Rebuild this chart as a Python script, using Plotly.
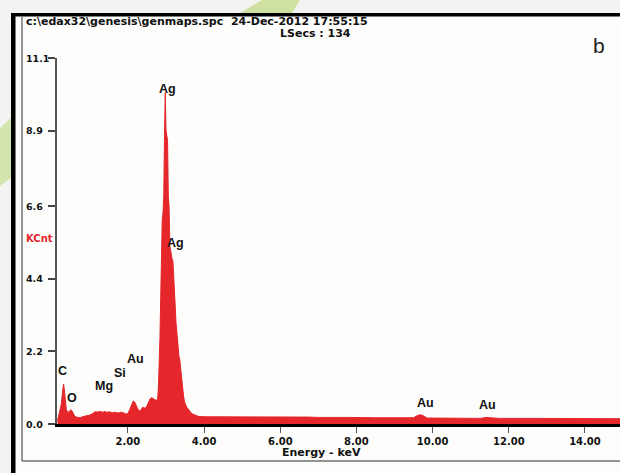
import plotly.graph_objects as go

# ---------------- data ----------------
energy_low = [0.15, 0.20, 0.25, 0.28, 0.31, 0.33, 0.35, 0.38, 0.41, 0.44, 0.47, 0.50, 0.53,
              0.56, 0.60, 0.65, 0.70, 0.75, 0.80, 0.85, 0.90, 0.95, 1.00, 1.05, 1.10, 1.15,
              1.20, 1.25, 1.30, 1.35, 1.40, 1.45, 1.50, 1.55, 1.60, 1.65, 1.70, 1.75, 1.80,
              1.85, 1.90, 1.95, 2.00, 2.05, 2.10, 2.14, 2.18, 2.22, 2.26, 2.30, 2.34, 2.38,
              2.42, 2.46, 2.50, 2.54, 2.58, 2.62, 2.66, 2.70, 2.73]
kcnt_low = [0.10, 0.35, 0.60, 0.95, 1.21, 1.05, 0.70, 0.45, 0.37, 0.36, 0.40, 0.43, 0.40,
            0.32, 0.24, 0.21, 0.20, 0.19, 0.22, 0.23, 0.23, 0.26, 0.27, 0.30, 0.35, 0.38,
            0.36, 0.38, 0.37, 0.36, 0.38, 0.35, 0.37, 0.36, 0.34, 0.36, 0.35, 0.33, 0.36,
            0.35, 0.33, 0.30, 0.32, 0.45, 0.62, 0.70, 0.66, 0.55, 0.45, 0.40, 0.42, 0.50,
            0.50, 0.48, 0.55, 0.68, 0.76, 0.80, 0.76, 0.74, 0.72]

energy_peak = [2.76, 2.78, 2.80, 2.82, 2.84, 2.86, 2.88, 2.90, 2.92, 2.94, 2.96, 2.98, 3.00,
               3.02, 3.04, 3.06, 3.08, 3.10, 3.12, 3.14, 3.16, 3.18, 3.20, 3.22, 3.24, 3.26,
               3.28, 3.30, 3.32, 3.34, 3.36, 3.38, 3.40, 3.42, 3.44, 3.46, 3.48, 3.50, 3.55,
               3.60, 3.65, 3.70, 3.75, 3.80]
kcnt_peak = [0.72, 0.78, 1.10, 1.70, 2.60, 3.80, 5.20, 6.20, 6.40, 6.90, 8.80, 10.05, 8.90,
             8.70, 8.60, 6.90, 6.60, 5.40, 5.20, 5.10, 5.00, 4.95, 4.30, 4.10, 3.60, 3.10,
             2.80, 2.50, 2.20, 2.05, 1.95, 1.70, 1.40, 1.20, 1.00, 0.85, 0.72, 0.62, 0.50,
             0.42, 0.35, 0.30, 0.27, 0.24]

energy_tail = [3.85, 4.00, 4.25, 4.50, 4.75, 5.00, 5.25, 5.50, 5.75, 6.00, 6.25, 6.50, 6.75,
               7.00, 7.25, 7.50, 7.75, 8.00, 8.25, 8.50, 8.75, 9.00, 9.25, 9.50, 9.60, 9.68,
               9.76, 9.85, 10.00, 10.25, 10.50, 10.75, 11.00, 11.25, 11.40, 11.50, 11.75,
               12.00, 12.25, 12.50, 12.75, 13.00, 13.25, 13.50, 13.75, 14.00, 14.25, 14.50,
               14.75, 14.92]
kcnt_tail = [0.23, 0.22, 0.22, 0.23, 0.22, 0.22, 0.21, 0.21, 0.22, 0.21, 0.22, 0.22, 0.21,
             0.20, 0.21, 0.20, 0.20, 0.19, 0.20, 0.19, 0.19, 0.19, 0.19, 0.19, 0.26, 0.28,
             0.25, 0.18, 0.18, 0.18, 0.17, 0.18, 0.18, 0.17, 0.20, 0.19, 0.17, 0.17, 0.18,
             0.17, 0.17, 0.17, 0.17, 0.16, 0.17, 0.16, 0.17, 0.16, 0.16, 0.16]

label_text = ["C", "O", "Mg", "Si", "Au", "Ag", "Ag", "Au", "Au"]
label_kev = [0.27, 0.52, 1.37, 1.80, 2.19, 3.05, 3.24, 9.80, 11.45]
label_kcnt = [1.62, 0.80, 1.14, 1.55, 1.97, 10.15, 5.48, 0.65, 0.59]

x_tick_vals = [2, 4, 6, 8, 10, 12, 14]
x_tick_text = ["2.00", "4.00", "6.00", "8.00", "10.00", "12.00", "14.00"]
y_tick_vals = [0.0, 2.2, 4.4, 6.6, 8.9, 11.1]
y_tick_text = ["0.0", "2.2", "4.4", "6.6", "8.9", "11.1"]

header_line1 = "c:\\edax32\\genesis\\genmaps.spc\u00a0\u00a024-Dec-2012 17:55:15"
header_line2 = "LSecs : 134"

# ---------------- figure ----------------
W, H = 620, 473
ML, MR, MT, MB = 57, 0, 58, 49
PW, PH = W - ML - MR, H - MT - MB


def PX(px):
    return (px - ML) / PW


def PY(py):
    return (H - MB - py) / PH


RED = "#e5262b"
energy = energy_low + energy_peak + energy_tail
kcnt = kcnt_low + kcnt_peak + kcnt_tail

fig = go.Figure()
fig.add_trace(go.Scatter(
    x=energy, y=kcnt, mode="lines", fill="tozeroy",
    line=dict(color=RED, width=1), fillcolor=RED, hoverinfo="skip", showlegend=False,
))

shapes = [
    # inner white sheet
    dict(type="rect", xref="paper", yref="paper", x0=PX(15), x1=PX(620), y0=PY(473), y1=PY(16),
         fillcolor="#fdfdfc", line=dict(width=0), layer="below"),
    # decorative green patches outside the frame
    dict(type="path", xref="paper", yref="paper", layer="below",
         path=f"M {PX(0)} {PY(128)} L {PX(11)} {PY(118)} L {PX(11)} {PY(178)} L {PX(0)} {PY(186)} Z",
         fillcolor="#d3e5ad", line=dict(width=0)),
    dict(type="path", xref="paper", yref="paper", layer="below",
         path=f"M {PX(240)} {PY(13)} L {PX(262)} {PY(0)} L {PX(300)} {PY(0)} L {PX(292)} {PY(13)} Z",
         fillcolor="#cfe2a2", line=dict(width=0)),
    # thick black border (left and top)
    dict(type="rect", xref="paper", yref="paper", x0=PX(11), x1=PX(15.5), y0=PY(473), y1=PY(13),
         fillcolor="#000000", line=dict(width=0)),
    dict(type="rect", xref="paper", yref="paper", x0=PX(11), x1=PX(620), y0=PY(16.5), y1=PY(13),
         fillcolor="#000000", line=dict(width=0)),
    # thin grey frame
    dict(type="line", xref="paper", yref="paper", x0=PX(22), x1=PX(22), y0=PY(17), y1=PY(461),
         line=dict(color="#707070", width=1.5)),
    dict(type="line", xref="paper", yref="paper", x0=PX(22), x1=PX(620), y0=PY(461), y1=PY(461),
         line=dict(color="#707070", width=1.5)),
]

annotations = []
for t, xv, yv in zip(label_text, label_kev, label_kcnt):
    annotations.append(dict(x=xv, y=yv, xref="x", yref="y", text=t, showarrow=False,
                            xanchor="center", yanchor="middle",
                            font=dict(family="Liberation Sans", size=12.5, color="#111", weight="bold")))
for tv, tt in zip(y_tick_vals, y_tick_text):
    annotations.append(dict(x=PX(24), y=tv, xref="paper", yref="y", text=tt, showarrow=False,
                            xanchor="left", yanchor="middle",
                            font=dict(family="DejaVu Sans", size=9.5, color="#111", weight="bold")))
annotations += [
    dict(x=PX(24), y=PY(22), xref="paper", yref="paper", text=header_line1, showarrow=False,
         xanchor="left", yanchor="middle",
         font=dict(family="DejaVu Sans", size=11, color="#111", weight="bold")),
    dict(x=PX(315), y=PY(34), xref="paper", yref="paper", text=header_line2, showarrow=False,
         xanchor="center", yanchor="middle",
         font=dict(family="DejaVu Sans", size=11, color="#111", weight="bold")),
    dict(x=PX(599), y=PY(45), xref="paper", yref="paper", text="b", showarrow=False,
         xanchor="center", yanchor="middle",
         font=dict(family="Liberation Sans", size=21, color="#222")),
    dict(x=PX(24), y=PY(238), xref="paper", yref="paper", text="KCnt", showarrow=False,
         xanchor="left", yanchor="middle",
         font=dict(family="DejaVu Sans", size=10, color=RED, weight="bold")),
    dict(x=7.07, y=PY(452), xref="x", yref="paper", text="Energy - keV", showarrow=False,
         xanchor="center", yanchor="middle",
         font=dict(family="DejaVu Sans", size=11, color="#111", weight="bold")),
]

fig.update_layout(
    width=W, height=H,
    margin=dict(l=ML, r=MR, t=MT, b=MB, pad=0),
    paper_bgcolor="#f3f3f1", plot_bgcolor="rgba(0,0,0,0)",
    shapes=shapes, annotations=annotations, showlegend=False,
    xaxis=dict(range=[0.137, 14.92], showgrid=False, zeroline=False,
               tickvals=x_tick_vals, ticktext=x_tick_text,
               ticks="outside", ticklen=6, tickwidth=1.2, tickcolor="#555",
               showline=True, linecolor="#000", linewidth=3,
               tickfont=dict(family="DejaVu Sans", size=10, color="#111", weight="bold")),
    yaxis=dict(range=[0, 11.1], showgrid=False, zeroline=False,
               tickvals=y_tick_vals, showticklabels=False,
               ticks="outside", ticklen=7, tickwidth=1.5, tickcolor="#444",
               showline=True, linecolor="#555", linewidth=1.5),
)

fig.write_html("out.html", config={"displayModeBar": False},
               post_script="document.body.style.margin='0';document.body.style.overflow='hidden';")
